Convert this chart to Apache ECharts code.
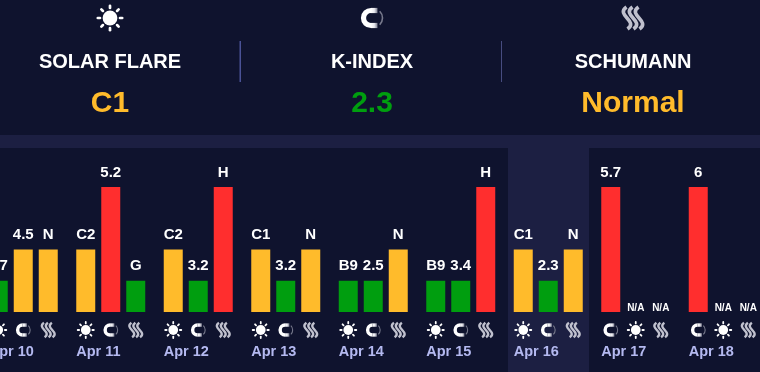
<!DOCTYPE html>
<html><head><meta charset="utf-8">
<style>html,body{margin:0;padding:0;background:#0f132e;overflow:hidden}#c{width:760px;height:372px}</style>
<script src="https://cdn.jsdelivr.net/npm/echarts@6/dist/echarts.min.js"></script>
</head><body><div id="c"></div>
<script>
const days = ['Apr 10','Apr 11','Apr 12','Apr 13','Apr 14','Apr 15','Apr 16','Apr 17','Apr 18'];
const slot1Levels = [1,2,2,2,1,1,2,4,4];
const slot2Levels = [2,4,1,1,1,1,1,0,0];
const slot3Levels = [2,1,4,2,2,4,2,0,0];
const slot1Labels = ['B7','C2','C2','C1','B9','B9','C1','5.7','6'];
const slot2Labels = ['4.5','5.2','3.2','3.2','2.5','3.4','2.3','N/A','N/A'];
const slot3Labels = ['N','G','H','N','N','H','N','N/A','N/A'];
const slot1Icons = ['sun','sun','sun','sun','sun','sun','sun','magnet','magnet'];
const slot2Icons = ['magnet','magnet','magnet','magnet','magnet','magnet','magnet','sun','sun'];
const slot3Icons = ['waves','waves','waves','waves','waves','waves','waves','waves','waves'];
const headerTitles = ['SOLAR FLARE','K-INDEX','SCHUMANN'];
const headerValues = ['C1','2.3','Normal'];
const headerIcons = ['sun','magnet','waves'];
const headerColors = ['#ffbb2b','#009e0f','#ffbb2b'];
const levelColors = {1:'#009e0f',2:'#ffbb2b',4:'#ff2e2e'};
const FONT = '"Liberation Sans", Arial, sans-serif';
const BG = '#0f132e', BAND = '#1c1f42';

function icon(type, cx, cy, s){
  const kids = [];
  if(type==='sun'){
    kids.push({type:'circle',shape:{cx:cx,cy:cy,r:7.4*s},style:{fill:'#fff'}});
    for(let i=0;i<8;i++){
      const a=i*Math.PI/4, c=Math.cos(a), d=Math.sin(a);
      kids.push({type:'line',shape:{x1:cx+c*10*s,y1:cy+d*10*s,x2:cx+c*12.2*s,y2:cy+d*12.2*s},
        style:{stroke:'#fff',lineWidth:2.7*s,lineCap:'round'}});
    }
  }else if(type==='magnet'){
    const fade=new echarts.graphic.LinearGradient(0,0,1,0,[{offset:0,color:'#ffffff'},{offset:.5,color:'#e8e8ee'},{offset:1,color:'#7c7e90'}]);
    const x=cx-1*s;
    kids.push({type:'arc',shape:{cx:x,cy:cy,r:7.5*s,startAngle:Math.PI/2,endAngle:Math.PI*1.5,clockwise:true},
      style:{stroke:'#fff',fill:null,lineWidth:5.2*s}});
    kids.push({type:'rect',shape:{x:x,y:cy-10.1*s,width:6.5*s,height:5.2*s},style:{fill:fade}});
    kids.push({type:'rect',shape:{x:x,y:cy+4.9*s,width:6.5*s,height:5.2*s},style:{fill:fade}});
    kids.push({type:'arc',shape:{cx:cx+1*s,cy:cy,r:9.5*s,startAngle:-Math.PI/4,endAngle:Math.PI/4,clockwise:true},
      style:{stroke:'#77798c',fill:null,lineWidth:1.6*s}});
  }else{
    [-6,0,6].forEach(o=>{
      const x=cx+o*s;
      kids.push({type:'bezierCurve',shape:{x1:x-0.5*s,y1:cy-11*s,cpx1:x-12*s,cpy1:cy-3*s,cpx2:x+12*s,cpy2:cy+3*s,x2:x+0.5*s,y2:cy+11*s},
        style:{stroke:'#c0c1ce',fill:null,lineWidth:3.6*s,lineCap:'butt'}});
    });
  }
  return kids;
}

function barSeries(levels,labels){
  return {
    type:'bar',barWidth:19,barGap:'31.58%',
    data:levels.map(v=>{
      const item={value:v,itemStyle:{color:levelColors[v]||'transparent'}};
      if(v===0) item.label={fontSize:10,distance:-1};
      return item;
    }),
    label:{show:true,position:'top',distance:7,color:'#fff',fontFamily:FONT,fontWeight:'bold',fontSize:15,
      formatter:p=>labels[p.dataIndex]}
  };
}
const s1=barSeries(slot1Levels,slot1Labels), s2=barSeries(slot2Levels,slot2Labels), s3=barSeries(slot3Levels,slot3Labels);

const iconData=[];
days.forEach((d,i)=>{ iconData.push([i,-25,slot1Icons[i]],[i,0,slot2Icons[i]],[i,25,slot3Icons[i]]); });

const graphics=[
  {type:'rect',shape:{x:0,y:135,width:760,height:13},style:{fill:BAND},silent:true},
  {type:'rect',shape:{x:508,y:148,width:81,height:224},style:{fill:BAND},silent:true},
  {type:'rect',shape:{x:239.5,y:41,width:1.5,height:41},style:{fill:'#4a5296'},silent:true},
  {type:'rect',shape:{x:501,y:41,width:1,height:41},style:{fill:'#474c80'},silent:true}
];
const headerX=[110,372,633];
headerTitles.forEach((t,i)=>{
  graphics.push({type:'group',children:icon(headerIcons[i],headerX[i],18,1)});
  graphics.push({type:'text',style:{x:headerX[i],y:62,text:t,align:'center',verticalAlign:'middle',fill:'#fff',font:'bold 20px '+FONT}});
  graphics.push({type:'text',style:{x:headerX[i],y:104,text:headerValues[i],align:'center',verticalAlign:'middle',fill:headerColors[i],font:'bold 30px '+FONT}});
});

const chart=echarts.init(document.getElementById('c'),null,{renderer:'canvas'});
chart.setOption({
  animation:false,backgroundColor:BG,
  grid:{left:-20.5,width:787.5,top:187,height:125,outerBoundsMode:'none'},
  graphic:graphics,
  xAxis:{type:'category',data:days,axisLine:{show:false},axisTick:{show:false},
    axisLabel:{interval:0,margin:32,formatter:v=>'{a|'+v+'}',
      rich:{a:{width:69,align:'left',color:'#b4b9f0',fontFamily:FONT,fontWeight:'bold',fontSize:14.5}}}},
  yAxis:{type:'value',min:0,max:4,show:false},
  series:[s1,s2,s3,{
    type:'custom',silent:true,z:3,
    data:iconData,
    encode:{x:0,y:1},
    renderItem:(params,api)=>{
      const it=iconData[params.dataIndex];
      const p=api.coord([it[0],0]);
      return {type:'group',children:icon(it[2],p[0]+it[1],p[1]+18,0.66)};
    }
  }]
});
</script></body></html>
